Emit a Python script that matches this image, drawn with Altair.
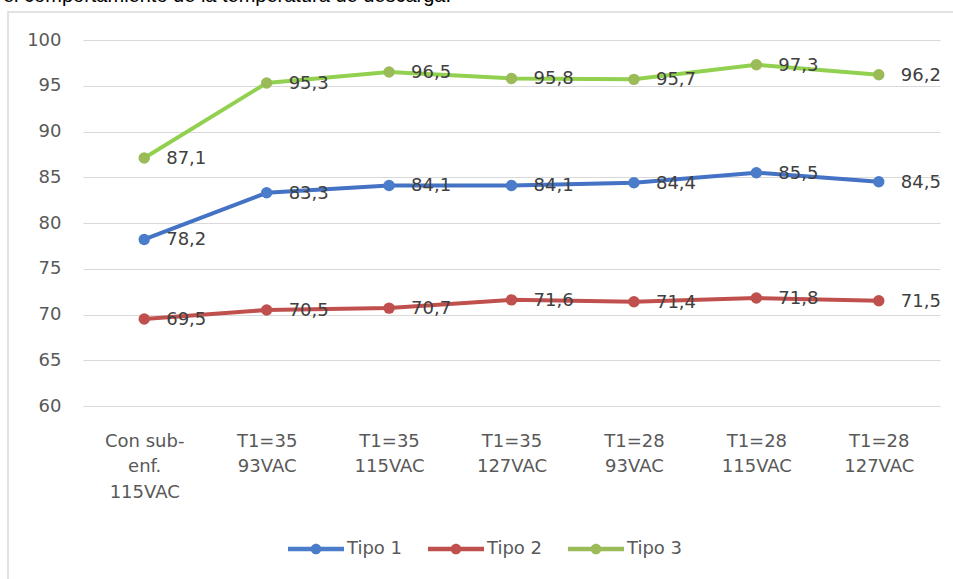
import altair as alt
import pandas as pd

categories = ["Con sub-\nenf.\n115VAC", "T1=35\n93VAC", "T1=35\n115VAC", "T1=35\n127VAC",
              "T1=28\n93VAC", "T1=28\n115VAC", "T1=28\n127VAC"]
series_names = ["Tipo 1", "Tipo 2", "Tipo 3"]
tipo1 = [78.2, 83.3, 84.1, 84.1, 84.4, 85.5, 84.5]
tipo2 = [69.5, 70.5, 70.7, 71.6, 71.4, 71.8, 71.5]
tipo3 = [87.1, 95.3, 96.5, 95.8, 95.7, 97.3, 96.2]
line_colors = ["#4472C4", "#C0504D", "#92D050"]
marker_colors = ["#4A7CC9", "#C0504D", "#9BBB59"]
top_text = "el comportamiento de la temperatura de descarga."

rows = []
for name, vals in zip(series_names, [tipo1, tipo2, tipo3]):
    for c, v in zip(categories, vals):
        rows.append({"cat": c, "serie": name, "valor": v})
df = pd.DataFrame(rows)

FONT = "DejaVu Sans"
GRAY = "#595959"

x_enc = alt.X("cat:N", sort=categories, title=None,
              scale=alt.Scale(paddingInner=0, paddingOuter=0),
              axis=alt.Axis(labelExpr="split(datum.label, '\\n')", labelAngle=0,
                            labelFont=FONT, labelFontSize=18, labelColor=GRAY,
                            labelLineHeight=25.5, labelPadding=26, labelBaseline="top",
                            ticks=False, domain=False, grid=False))
y_enc = alt.Y("valor:Q", title=None,
              scale=alt.Scale(domain=[60, 100], nice=False, zero=False),
              axis=alt.Axis(values=list(range(60, 101, 5)), labelFont=FONT, labelFontSize=18,
                            labelColor=GRAY, labelPadding=22, ticks=False, domain=False,
                            gridColor="#D9D9D9", gridWidth=1.2))

base = alt.Chart(df)

lines = base.mark_line(strokeWidth=4).encode(
    x=x_enc, y=y_enc,
    color=alt.Color("serie:N", scale=alt.Scale(domain=series_names, range=line_colors), legend=None),
)

points = base.mark_point(filled=True, size=130, opacity=1).encode(
    x=alt.X("cat:N", sort=categories),
    y="valor:Q",
    color=alt.Color("serie:N", scale=alt.Scale(domain=series_names, range=marker_colors),
                    legend=alt.Legend(
                        title=None, orient="none", direction="horizontal",
                        legendX=205, legendY=481, padding=0,
                        symbolType="M-1,-0.08H1V0.08H-1Z M0.19,0 A0.19,0.19 0 1,1 -0.19,0 A0.19,0.19 0 1,1 0.19,0Z",
                        symbolSize=3136, symbolStrokeWidth=0, symbolOpacity=1,
                        labelFont=FONT, labelFontSize=18, labelColor=GRAY,
                        labelOffset=3, columnPadding=25)),
)

labels = base.transform_calculate(
    lbl="replace(format(datum.valor, '.1f'), '.', ',')"
).mark_text(align="left", baseline="middle", dx=22, dy=1, font=FONT, fontSize=18, color="#404040").encode(
    x=alt.X("cat:N", sort=categories),
    y="valor:Q",
    text="lbl:N",
)

frame = alt.Chart(pd.DataFrame({"a": [0]})).mark_rect(fill=None, stroke="#D9D9D9", strokeWidth=1.5).encode(
    x=alt.value(-75), x2=alt.value(900), y=alt.value(-28), y2=alt.value(600)
)

top = alt.Chart(pd.DataFrame({"t": [top_text]})).mark_text(
    align="left", baseline="alphabetic", font="Liberation Sans", fontSize=20, color="#000000"
).encode(x=alt.value(-80), y=alt.value(-38.5), text="t:N")

chart = alt.layer(frame, top, lines, points, labels).resolve_scale(color="independent").properties(
    width=857, height=366,
    background="white",
    autosize=alt.AutoSizeParams(type="none"),
    padding={"left": 83, "top": 40, "right": 13, "bottom": 173},
).configure_view(stroke=None, strokeWidth=0)

chart.save("out.html", embed_options={"renderer": "svg", "actions": False})
